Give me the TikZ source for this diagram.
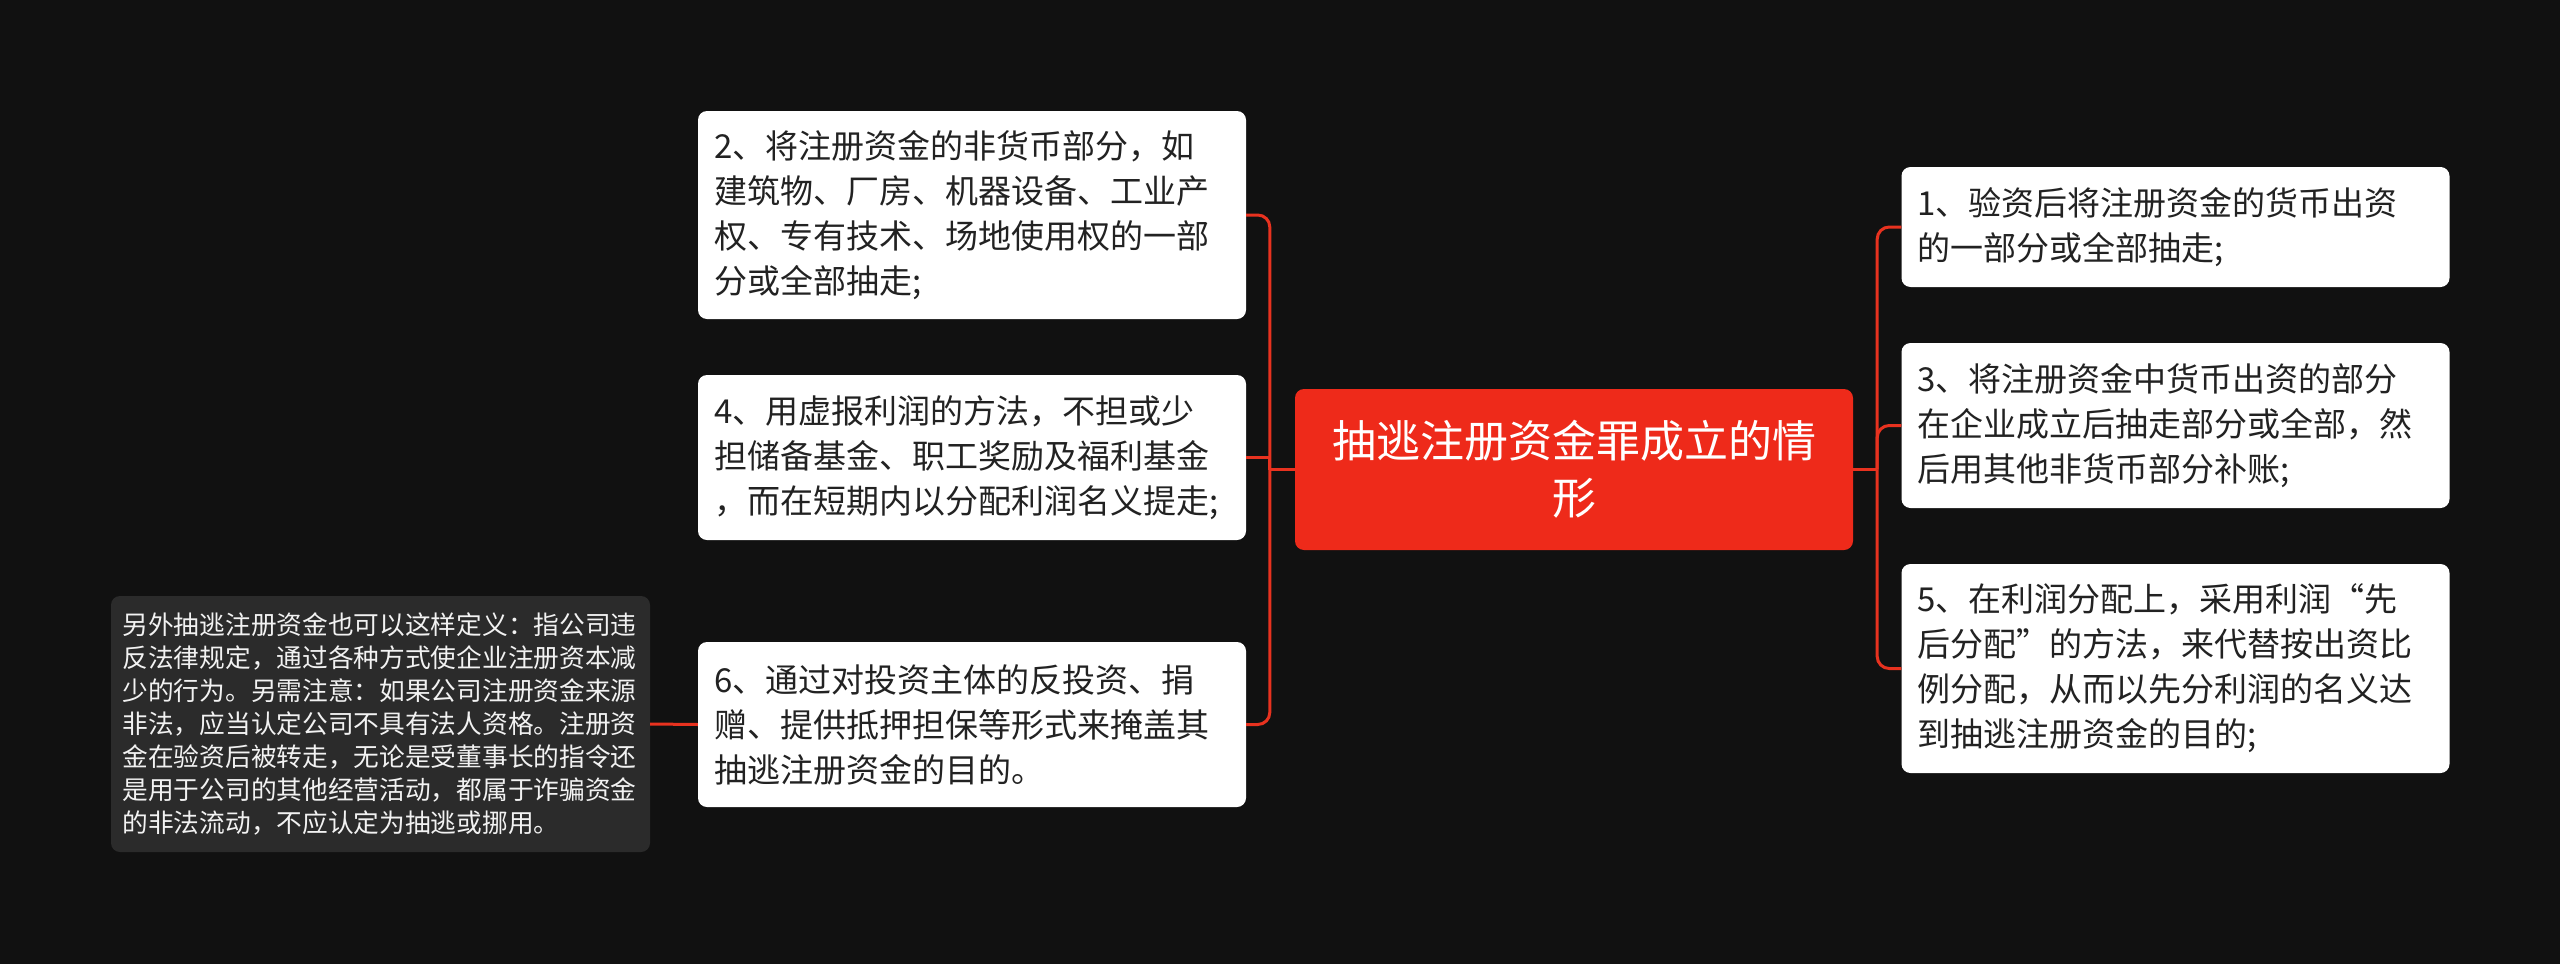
\documentclass[tikz,border=0pt]{standalone}
\usepackage{fontspec}
\setmainfont{Noto Sans CJK SC}
\definecolor{bg}{HTML}{111111}
\definecolor{rootred}{HTML}{EE2A1A}
\definecolor{linkred}{HTML}{E8321F}
\definecolor{notegray}{HTML}{2B2B2B}
\definecolor{notetext}{HTML}{F2F2F2}
\definecolor{leaftext}{HTML}{222222}
\begin{document}
\begin{tikzpicture}[x=1pt,y=-1pt,
  leaf/.style={rectangle, rounded corners=9pt, fill=white, text=leaftext,
    font=\fontsize{33}{45}\selectfont, align=left, text width=516pt,
    inner xsep=16pt, inner ysep=0pt, minimum width=548pt},
  rootbox/.style={rectangle, rounded corners=9pt, fill=rootred, text=white,
    font=\fontsize{44}{57}\selectfont, align=center, text width=518pt,
    inner xsep=20pt, inner ysep=0pt, minimum width=558pt, minimum height=161pt},
  notebox/.style={rectangle, rounded corners=9pt, fill=notegray, text=notetext,
    font=\fontsize{25.7}{33}\selectfont, align=left, text width=516pt,
    inner xsep=11.5pt, inner ysep=0pt, minimum width=539pt, minimum height=256pt},
  link/.style={draw=linkred, line width=3pt, rounded corners=12pt},
  straightlink/.style={draw=linkred, line width=3pt}
]
\fill[bg] (0,0) rectangle (2560,964);
\useasboundingbox (0,0) rectangle (2560,964);

\node[rootbox] (root) at (1574,469.5) {抽逃注册资金罪成立的情\\形};

\node[leaf, minimum height=208pt] (b2) at (972,215) {2、将注册资金的非货币部分，如\\建筑物、厂房、机器设备、工业产\\权、专有技术、场地使用权的一部\\分或全部抽走;};
\node[leaf, minimum height=165pt] (b4) at (972,457.5) {4、用虚报利润的方法，不担或少\\担储备基金、职工奖励及福利基金\\，而在短期内以分配利润名义提走;};
\node[leaf, minimum height=165pt] (b6) at (972,724.5) {6、通过对投资主体的反投资、捐\\赠、提供抵押担保等形式来掩盖其\\抽逃注册资金的目的。};

\node[leaf, minimum height=120pt] (b1) at (2175.5,227) {1、验资后将注册资金的货币出资\\的一部分或全部抽走;};
\node[leaf, minimum height=165pt] (b3) at (2175.5,425.5) {3、将注册资金中货币出资的部分\\在企业成立后抽走部分或全部，然\\后用其他非货币部分补账;};
\node[leaf, minimum height=209pt] (b5) at (2175.5,668.5) {5、在利润分配上，采用利润“先\\后分配”的方法，来代替按出资比\\例分配，从而以先分利润的名义达\\到抽逃注册资金的目的;};

\node[notebox] (note) at (380.5,724) {另外抽逃注册资金也可以这样定义：指公司违\\反法律规定，通过各种方式使企业注册资本减\\少的行为。另需注意：如果公司注册资金来源\\非法，应当认定公司不具有法人资格。注册资\\金在验资后被转走，无论是受董事长的指令还\\是用于公司的其他经营活动，都属于诈骗资金\\的非法流动，不应认定为抽逃或挪用。};

\path (root.west) ++(-25,0) coordinate (lj);
\path (root.east) ++(24,0) coordinate (rj);

\draw[straightlink] (root.west) -- (lj);
\draw[link] (lj) |- (b2.east);
\draw[straightlink] (lj) |- (b4.east);
\draw[link] (lj) |- (b6.east);

\draw[straightlink] (root.east) -- (rj);
\draw[link] (rj) |- (b1.west);
\draw[link] (rj) |- (b3.west);
\draw[link] (rj) |- (b5.west);

\draw[straightlink] (b6.west) -- (note.east);
\end{tikzpicture}
\end{document}
